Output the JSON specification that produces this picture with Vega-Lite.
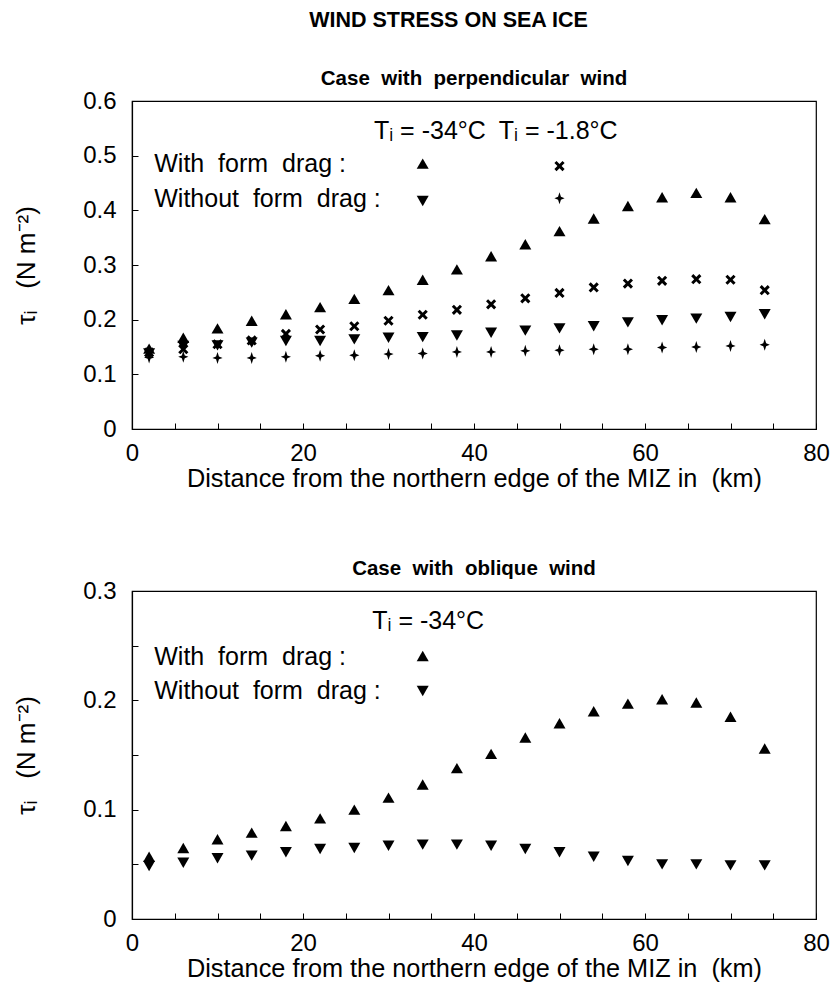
{
  "$schema": "https://vega.github.io/schema/vega-lite/v6.json",
  "background": "white",
  "padding": {"left": 13, "top": 10, "right": 12, "bottom": 5},
  "config": {
    "font": "Liberation Sans",
    "view": {"stroke": "black", "strokeWidth": 1.2},
    "axis": {
      "domainColor": "black", "domainWidth": 1.2, "tickColor": "black", "tickWidth": 1,
      "labelColor": "black", "titleColor": "black", "labelFontSize": 24, "titleFontSize": 25.3,
      "titleFontWeight": "normal", "grid": false, "labelFlush": false, "labelOverlap": false,
      "tickSize": -6
    },
    "title": {"color": "black"}
  },
  "title": {"text": "WIND STRESS ON SEA ICE", "fontSize": 21.5, "fontWeight": "bold", "anchor": "middle", "offset": 36, "dx": 27},
  "spacing": 65,
  "datasets": {
    "pts": [
      {"panel": "perp", "series": "with drag -34", "x": 2, "tau": 0.147},
      {"panel": "perp", "series": "with drag -34", "x": 6, "tau": 0.167},
      {"panel": "perp", "series": "with drag -34", "x": 10, "tau": 0.184},
      {"panel": "perp", "series": "with drag -34", "x": 14, "tau": 0.198},
      {"panel": "perp", "series": "with drag -34", "x": 18, "tau": 0.21},
      {"panel": "perp", "series": "with drag -34", "x": 22, "tau": 0.223},
      {"panel": "perp", "series": "with drag -34", "x": 26, "tau": 0.238},
      {"panel": "perp", "series": "with drag -34", "x": 30, "tau": 0.254},
      {"panel": "perp", "series": "with drag -34", "x": 34, "tau": 0.273},
      {"panel": "perp", "series": "with drag -34", "x": 38, "tau": 0.292},
      {"panel": "perp", "series": "with drag -34", "x": 42, "tau": 0.316},
      {"panel": "perp", "series": "with drag -34", "x": 46, "tau": 0.338},
      {"panel": "perp", "series": "with drag -34", "x": 50, "tau": 0.362},
      {"panel": "perp", "series": "with drag -34", "x": 54, "tau": 0.385},
      {"panel": "perp", "series": "with drag -34", "x": 58, "tau": 0.408},
      {"panel": "perp", "series": "with drag -34", "x": 62, "tau": 0.424},
      {"panel": "perp", "series": "with drag -34", "x": 66, "tau": 0.432},
      {"panel": "perp", "series": "with drag -34", "x": 70, "tau": 0.424},
      {"panel": "perp", "series": "with drag -34", "x": 74, "tau": 0.384},
      {"panel": "perp", "series": "with drag -1.8", "x": 2, "tau": 0.14},
      {"panel": "perp", "series": "with drag -1.8", "x": 6, "tau": 0.146},
      {"panel": "perp", "series": "with drag -1.8", "x": 10, "tau": 0.155},
      {"panel": "perp", "series": "with drag -1.8", "x": 14, "tau": 0.162},
      {"panel": "perp", "series": "with drag -1.8", "x": 18, "tau": 0.174},
      {"panel": "perp", "series": "with drag -1.8", "x": 22, "tau": 0.182},
      {"panel": "perp", "series": "with drag -1.8", "x": 26, "tau": 0.188},
      {"panel": "perp", "series": "with drag -1.8", "x": 30, "tau": 0.198},
      {"panel": "perp", "series": "with drag -1.8", "x": 34, "tau": 0.209},
      {"panel": "perp", "series": "with drag -1.8", "x": 38, "tau": 0.218},
      {"panel": "perp", "series": "with drag -1.8", "x": 42, "tau": 0.228},
      {"panel": "perp", "series": "with drag -1.8", "x": 46, "tau": 0.239},
      {"panel": "perp", "series": "with drag -1.8", "x": 50, "tau": 0.249},
      {"panel": "perp", "series": "with drag -1.8", "x": 54, "tau": 0.259},
      {"panel": "perp", "series": "with drag -1.8", "x": 58, "tau": 0.266},
      {"panel": "perp", "series": "with drag -1.8", "x": 62, "tau": 0.271},
      {"panel": "perp", "series": "with drag -1.8", "x": 66, "tau": 0.274},
      {"panel": "perp", "series": "with drag -1.8", "x": 70, "tau": 0.273},
      {"panel": "perp", "series": "with drag -1.8", "x": 74, "tau": 0.254},
      {"panel": "perp", "series": "no drag -34", "x": 2, "tau": 0.138},
      {"panel": "perp", "series": "no drag -34", "x": 6, "tau": 0.152},
      {"panel": "perp", "series": "no drag -34", "x": 10, "tau": 0.153},
      {"panel": "perp", "series": "no drag -34", "x": 14, "tau": 0.158},
      {"panel": "perp", "series": "no drag -34", "x": 18, "tau": 0.161},
      {"panel": "perp", "series": "no drag -34", "x": 22, "tau": 0.161},
      {"panel": "perp", "series": "no drag -34", "x": 26, "tau": 0.164},
      {"panel": "perp", "series": "no drag -34", "x": 30, "tau": 0.167},
      {"panel": "perp", "series": "no drag -34", "x": 34, "tau": 0.168},
      {"panel": "perp", "series": "no drag -34", "x": 38, "tau": 0.171},
      {"panel": "perp", "series": "no drag -34", "x": 42, "tau": 0.176},
      {"panel": "perp", "series": "no drag -34", "x": 46, "tau": 0.18},
      {"panel": "perp", "series": "no drag -34", "x": 50, "tau": 0.184},
      {"panel": "perp", "series": "no drag -34", "x": 54, "tau": 0.188},
      {"panel": "perp", "series": "no drag -34", "x": 58, "tau": 0.195},
      {"panel": "perp", "series": "no drag -34", "x": 62, "tau": 0.199},
      {"panel": "perp", "series": "no drag -34", "x": 66, "tau": 0.202},
      {"panel": "perp", "series": "no drag -34", "x": 70, "tau": 0.205},
      {"panel": "perp", "series": "no drag -34", "x": 74, "tau": 0.21},
      {"panel": "perp", "series": "no drag -1.8", "x": 2, "tau": 0.131},
      {"panel": "perp", "series": "no drag -1.8", "x": 6, "tau": 0.132},
      {"panel": "perp", "series": "no drag -1.8", "x": 10, "tau": 0.13},
      {"panel": "perp", "series": "no drag -1.8", "x": 14, "tau": 0.13},
      {"panel": "perp", "series": "no drag -1.8", "x": 18, "tau": 0.132},
      {"panel": "perp", "series": "no drag -1.8", "x": 22, "tau": 0.134},
      {"panel": "perp", "series": "no drag -1.8", "x": 26, "tau": 0.135},
      {"panel": "perp", "series": "no drag -1.8", "x": 30, "tau": 0.137},
      {"panel": "perp", "series": "no drag -1.8", "x": 34, "tau": 0.138},
      {"panel": "perp", "series": "no drag -1.8", "x": 38, "tau": 0.141},
      {"panel": "perp", "series": "no drag -1.8", "x": 42, "tau": 0.141},
      {"panel": "perp", "series": "no drag -1.8", "x": 46, "tau": 0.143},
      {"panel": "perp", "series": "no drag -1.8", "x": 50, "tau": 0.144},
      {"panel": "perp", "series": "no drag -1.8", "x": 54, "tau": 0.146},
      {"panel": "perp", "series": "no drag -1.8", "x": 58, "tau": 0.146},
      {"panel": "perp", "series": "no drag -1.8", "x": 62, "tau": 0.149},
      {"panel": "perp", "series": "no drag -1.8", "x": 66, "tau": 0.15},
      {"panel": "perp", "series": "no drag -1.8", "x": 70, "tau": 0.152},
      {"panel": "perp", "series": "no drag -1.8", "x": 74, "tau": 0.154},
      {"panel": "obl", "series": "with drag -34", "x": 2, "tau": 0.057},
      {"panel": "obl", "series": "with drag -34", "x": 6, "tau": 0.065},
      {"panel": "obl", "series": "with drag -34", "x": 10, "tau": 0.073},
      {"panel": "obl", "series": "with drag -34", "x": 14, "tau": 0.079},
      {"panel": "obl", "series": "with drag -34", "x": 18, "tau": 0.085},
      {"panel": "obl", "series": "with drag -34", "x": 22, "tau": 0.092},
      {"panel": "obl", "series": "with drag -34", "x": 26, "tau": 0.1},
      {"panel": "obl", "series": "with drag -34", "x": 30, "tau": 0.111},
      {"panel": "obl", "series": "with drag -34", "x": 34, "tau": 0.123},
      {"panel": "obl", "series": "with drag -34", "x": 38, "tau": 0.138},
      {"panel": "obl", "series": "with drag -34", "x": 42, "tau": 0.151},
      {"panel": "obl", "series": "with drag -34", "x": 46, "tau": 0.166},
      {"panel": "obl", "series": "with drag -34", "x": 50, "tau": 0.179},
      {"panel": "obl", "series": "with drag -34", "x": 54, "tau": 0.19},
      {"panel": "obl", "series": "with drag -34", "x": 58, "tau": 0.197},
      {"panel": "obl", "series": "with drag -34", "x": 62, "tau": 0.201},
      {"panel": "obl", "series": "with drag -34", "x": 66, "tau": 0.198},
      {"panel": "obl", "series": "with drag -34", "x": 70, "tau": 0.185},
      {"panel": "obl", "series": "with drag -34", "x": 74, "tau": 0.156},
      {"panel": "obl", "series": "no drag -34", "x": 2, "tau": 0.0485},
      {"panel": "obl", "series": "no drag -34", "x": 6, "tau": 0.0515},
      {"panel": "obl", "series": "no drag -34", "x": 10, "tau": 0.0555},
      {"panel": "obl", "series": "no drag -34", "x": 14, "tau": 0.058},
      {"panel": "obl", "series": "no drag -34", "x": 18, "tau": 0.061},
      {"panel": "obl", "series": "no drag -34", "x": 22, "tau": 0.064},
      {"panel": "obl", "series": "no drag -34", "x": 26, "tau": 0.065},
      {"panel": "obl", "series": "no drag -34", "x": 30, "tau": 0.067},
      {"panel": "obl", "series": "no drag -34", "x": 34, "tau": 0.068},
      {"panel": "obl", "series": "no drag -34", "x": 38, "tau": 0.068},
      {"panel": "obl", "series": "no drag -34", "x": 42, "tau": 0.067},
      {"panel": "obl", "series": "no drag -34", "x": 46, "tau": 0.064},
      {"panel": "obl", "series": "no drag -34", "x": 50, "tau": 0.061},
      {"panel": "obl", "series": "no drag -34", "x": 54, "tau": 0.057},
      {"panel": "obl", "series": "no drag -34", "x": 58, "tau": 0.053},
      {"panel": "obl", "series": "no drag -34", "x": 62, "tau": 0.05},
      {"panel": "obl", "series": "no drag -34", "x": 66, "tau": 0.05},
      {"panel": "obl", "series": "no drag -34", "x": 70, "tau": 0.049},
      {"panel": "obl", "series": "no drag -34", "x": 74, "tau": 0.049}
    ]
  },
  "vconcat": [
    {
      "width": 684,
      "height": 328,
      "title": {"text": "Case\u00a0 with\u00a0 perpendicular\u00a0 wind", "fontSize": 20.5, "fontWeight": "bold", "anchor": "middle", "offset": 0},
      "layer": [
        {
          "data": {"name": "pts"},
          "transform": [{"filter": "datum.panel == 'perp'"}],
          "mark": {"type": "point", "filled": true, "opacity": 1, "color": "black", "size": 144, "strokeWidth": 0},
          "encoding": {
            "x": {"field": "x", "type": "quantitative", "scale": {"domain": [0, 80], "nice": false},
              "axis": {"title": "Distance from the northern edge of the MIZ in\u00a0 (km)", "values": [0,5,10,15,20,25,30,35,40,45,50,55,60,65,70,75,80], "labelExpr": "datum.value % 20 == 0 ? datum.label : ''", "labelPadding": 18, "titlePadding": 1}},
            "y": {"field": "tau", "type": "quantitative", "scale": {"domain": [0, 0.6], "nice": false, "zero": true},
              "axis": {"title": "τᵢ\u00a0\u00a0 (N m⁻²)", "titleFontSize": 26, "values": [0,0.05,0.1,0.15,0.2,0.25,0.3,0.35,0.4,0.45,0.5,0.55,0.6], "format": "~g", "labelExpr": "abs(datum.value*10 - round(datum.value*10)) < 0.001 ? datum.label : ''", "labelPadding": 22, "titlePadding": 43}},
            "shape": {"field": "series", "type": "nominal", "legend": null,
              "scale": {"domain": ["with drag -34", "with drag -1.8", "no drag -34", "no drag -1.8"],
                "range": ["triangle-up", "M-0.85,-0.5L-0.5,-0.85L0,-0.35L0.5,-0.85L0.85,-0.5L0.35,0L0.85,0.5L0.5,0.85L0,0.35L-0.5,0.85L-0.85,0.5L-0.35,0Z", "triangle-down", "M0,-1L0.24,-0.24L0.85,0L0.24,0.24L0,1L-0.24,0.24L-0.85,0L-0.24,-0.24Z"]}}
          }
        },
        {
          "data": {"values": [{}]},
          "mark": {"type": "text", "align": "left", "baseline": "middle", "fontSize": 25, "color": "black"},
          "encoding": {"x": {"datum": 28.3, "type": "quantitative"}, "y": {"datum": 0.545, "type": "quantitative"}, "text": {"value": "Tᵢ = -34°C"}}
        },
        {
          "data": {"values": [{}]},
          "mark": {"type": "text", "align": "left", "baseline": "middle", "fontSize": 25, "color": "black"},
          "encoding": {"x": {"datum": 42.9, "type": "quantitative"}, "y": {"datum": 0.545, "type": "quantitative"}, "text": {"value": "Tᵢ = -1.8°C"}}
        },
        {
          "data": {"values": [{}]},
          "mark": {"type": "text", "align": "left", "baseline": "middle", "fontSize": 25, "color": "black"},
          "encoding": {"x": {"datum": 2.6, "type": "quantitative"}, "y": {"datum": 0.485, "type": "quantitative"}, "text": {"value": "With\u00a0 form\u00a0 drag :"}}
        },
        {
          "data": {"values": [{}]},
          "mark": {"type": "text", "align": "left", "baseline": "middle", "fontSize": 25, "color": "black"},
          "encoding": {"x": {"datum": 2.6, "type": "quantitative"}, "y": {"datum": 0.42, "type": "quantitative"}, "text": {"value": "Without\u00a0 form\u00a0 drag :"}}
        },
        {
          "data": {"values": [{}]},
          "mark": {"type": "point", "shape": "triangle-up", "filled": true, "opacity": 1, "color": "black", "size": 144, "strokeWidth": 0},
          "encoding": {"x": {"datum": 34, "type": "quantitative"}, "y": {"datum": 0.4855, "type": "quantitative"}}
        },
        {
          "data": {"values": [{}]},
          "mark": {"type": "point", "shape": "triangle-down", "filled": true, "opacity": 1, "color": "black", "size": 144, "strokeWidth": 0},
          "encoding": {"x": {"datum": 34, "type": "quantitative"}, "y": {"datum": 0.417, "type": "quantitative"}}
        },
        {
          "data": {"values": [{}]},
          "mark": {"type": "point", "shape": "M-0.85,-0.5L-0.5,-0.85L0,-0.35L0.5,-0.85L0.85,-0.5L0.35,0L0.85,0.5L0.5,0.85L0,0.35L-0.5,0.85L-0.85,0.5L-0.35,0Z", "filled": true, "opacity": 1, "color": "black", "size": 144, "strokeWidth": 0},
          "encoding": {"x": {"datum": 50, "type": "quantitative"}, "y": {"datum": 0.481, "type": "quantitative"}}
        },
        {
          "data": {"values": [{}]},
          "mark": {"type": "point", "shape": "M0,-1L0.24,-0.24L0.85,0L0.24,0.24L0,1L-0.24,0.24L-0.85,0L-0.24,-0.24Z", "filled": true, "opacity": 1, "color": "black", "size": 144, "strokeWidth": 0},
          "encoding": {"x": {"datum": 50, "type": "quantitative"}, "y": {"datum": 0.422, "type": "quantitative"}}
        }
      ]
    },
    {
      "width": 684,
      "height": 328,
      "title": {"text": "Case\u00a0 with\u00a0 oblique\u00a0 wind", "fontSize": 20.5, "fontWeight": "bold", "anchor": "middle", "offset": 0},
      "layer": [
        {
          "data": {"name": "pts"},
          "transform": [{"filter": "datum.panel == 'obl'"}],
          "mark": {"type": "point", "filled": true, "opacity": 1, "color": "black", "size": 144, "strokeWidth": 0},
          "encoding": {
            "x": {"field": "x", "type": "quantitative", "scale": {"domain": [0, 80], "nice": false},
              "axis": {"title": "Distance from the northern edge of the MIZ in\u00a0 (km)", "values": [0,5,10,15,20,25,30,35,40,45,50,55,60,65,70,75,80], "labelExpr": "datum.value % 20 == 0 ? datum.label : ''", "labelPadding": 18, "titlePadding": 1}},
            "y": {"field": "tau", "type": "quantitative", "scale": {"domain": [0, 0.3], "nice": false, "zero": true},
              "axis": {"title": "τᵢ\u00a0\u00a0 (N m⁻²)", "titleFontSize": 26, "values": [0,0.05,0.1,0.15,0.2,0.25,0.3], "format": "~g", "labelExpr": "abs(datum.value*10 - round(datum.value*10)) < 0.001 ? datum.label : ''", "labelPadding": 22, "titlePadding": 43}},
            "shape": {"field": "series", "type": "nominal", "legend": null,
              "scale": {"domain": ["with drag -34", "no drag -34"], "range": ["triangle-up", "triangle-down"]}}
          }
        },
        {
          "data": {"values": [{}]},
          "mark": {"type": "text", "align": "left", "baseline": "middle", "fontSize": 25, "color": "black"},
          "encoding": {"x": {"datum": 28.1, "type": "quantitative"}, "y": {"datum": 0.2726, "type": "quantitative"}, "text": {"value": "Tᵢ = -34°C"}}
        },
        {
          "data": {"values": [{}]},
          "mark": {"type": "text", "align": "left", "baseline": "middle", "fontSize": 25, "color": "black"},
          "encoding": {"x": {"datum": 2.6, "type": "quantitative"}, "y": {"datum": 0.2397, "type": "quantitative"}, "text": {"value": "With\u00a0 form\u00a0 drag :"}}
        },
        {
          "data": {"values": [{}]},
          "mark": {"type": "text", "align": "left", "baseline": "middle", "fontSize": 25, "color": "black"},
          "encoding": {"x": {"datum": 2.6, "type": "quantitative"}, "y": {"datum": 0.2086, "type": "quantitative"}, "text": {"value": "Without\u00a0 form\u00a0 drag :"}}
        },
        {
          "data": {"values": [{}]},
          "mark": {"type": "point", "shape": "triangle-up", "filled": true, "opacity": 1, "color": "black", "size": 144, "strokeWidth": 0},
          "encoding": {"x": {"datum": 34, "type": "quantitative"}, "y": {"datum": 0.2406, "type": "quantitative"}}
        },
        {
          "data": {"values": [{}]},
          "mark": {"type": "point", "shape": "triangle-down", "filled": true, "opacity": 1, "color": "black", "size": 144, "strokeWidth": 0},
          "encoding": {"x": {"datum": 34, "type": "quantitative"}, "y": {"datum": 0.2086, "type": "quantitative"}}
        }
      ]
    }
  ]
}
